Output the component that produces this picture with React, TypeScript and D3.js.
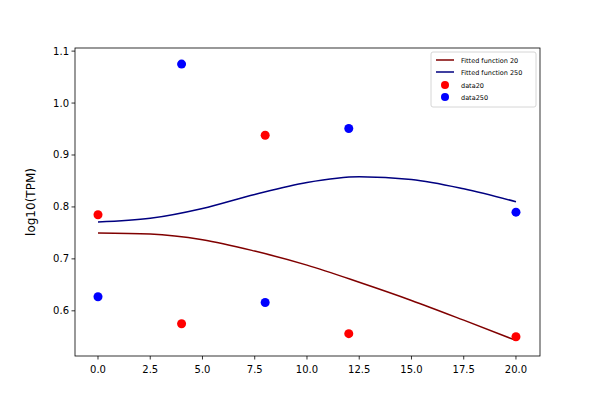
import React from 'react';
import * as d3 from 'd3';

const data20X = [0, 4, 8, 12, 20];
const data20Y = [0.785, 0.575, 0.938, 0.556, 0.55];
const data250X = [0, 4, 8, 12, 20];
const data250Y = [0.627, 1.075, 0.616, 0.951, 0.79];

const fitX = [0, 2.5, 5, 7.5, 10, 12.5, 15, 17.5, 20];
const fit20Y = [0.75, 0.748, 0.737, 0.715, 0.688, 0.655, 0.62, 0.582, 0.543];
const fit250Y = [0.771, 0.778, 0.797, 0.824, 0.847, 0.858, 0.853, 0.835, 0.81];

const xTicks = [0, 2.5, 5, 7.5, 10, 12.5, 15, 17.5, 20];
const yTicks = [0.6, 0.7, 0.8, 0.9, 1.0, 1.1];

const W = 600, H = 400;
const left = 75, right = 540, top = 48, bottom = 356;

export default function App() {
  const x = d3.scaleLinear().domain([-1.1, 21.15]).range([left, right]);
  const y = d3.scaleLinear().domain([0.513, 1.106]).range([bottom, top]);
  const line = d3.line<number>().x((_, i) => x(fitX[i])).y((d) => y(d)).curve(d3.curveMonotoneX);

  return (
    <svg width={W} height={H} style={{ position: 'absolute', left: 0, top: 0, fontFamily: 'DejaVu Sans' }}>
      <rect width={W} height={H} fill="#fff" />
      <path d={line(fit20Y)!} fill="none" stroke="#800000" strokeWidth={1.5} />
      <path d={line(fit250Y)!} fill="none" stroke="#000080" strokeWidth={1.5} />
      {data20X.map((d, i) => <circle key={'r' + i} cx={x(d)} cy={y(data20Y[i])} r={4.5} fill="red" />)}
      {data250X.map((d, i) => <circle key={'b' + i} cx={x(d)} cy={y(data250Y[i])} r={4.5} fill="blue" />)}
      <rect x={left} y={top} width={right - left} height={bottom - top} fill="none" stroke="#000" strokeWidth={0.8} />
      {xTicks.map((t) => (
        <g key={t} transform={`translate(${x(t)},${bottom})`}>
          <line y2={3.5} stroke="#000" strokeWidth={0.8} />
          <text y={17} textAnchor="middle" fontSize={10}>{t.toFixed(1)}</text>
        </g>
      ))}
      {yTicks.map((t) => (
        <g key={t} transform={`translate(${left},${y(t)})`}>
          <line x2={-3.5} stroke="#000" strokeWidth={0.8} />
          <text x={-6} dy="0.35em" textAnchor="end" fontSize={10}>{t.toFixed(1)}</text>
        </g>
      ))}
      <text transform={`translate(35,${(top + bottom) / 2}) rotate(-90)`} textAnchor="middle" fontSize={12}>log10(TPM)</text>
      <g transform="translate(431,52)" fontSize={6.5}>
        <rect width={105} height={55} rx={2} fill="#fff" fillOpacity={0.8} stroke="#ccc" strokeWidth={0.8} />
        <line x1={5} x2={23} y1={8} y2={8} stroke="#800000" strokeWidth={1.5} />
        <text x={30} y={10.5}>Fitted function 20</text>
        <line x1={5} x2={23} y1={20} y2={20} stroke="#000080" strokeWidth={1.5} />
        <text x={30} y={22.5}>Fitted function 250</text>
        <circle cx={14} cy={33} r={4} fill="red" />
        <text x={30} y={35.5}>data20</text>
        <circle cx={14} cy={45} r={4} fill="blue" />
        <text x={30} y={47.5}>data250</text>
      </g>
    </svg>
  );
}
